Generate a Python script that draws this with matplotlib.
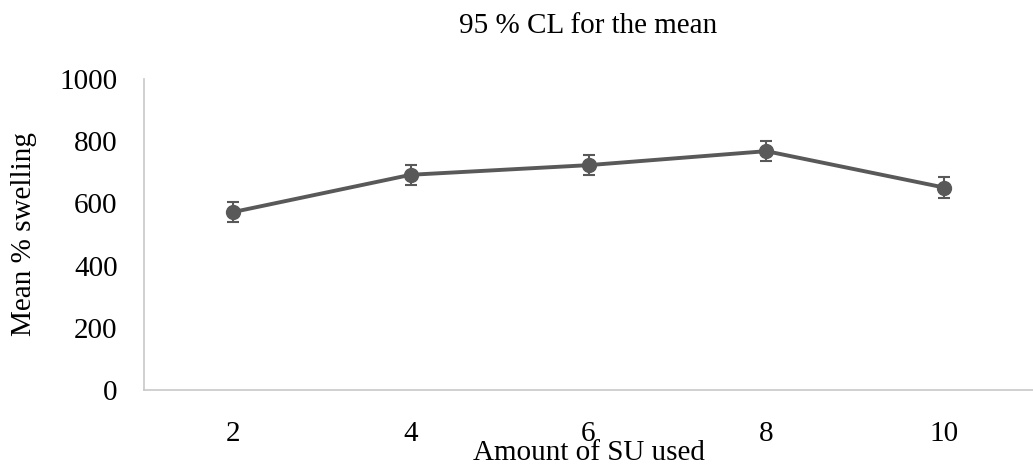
import matplotlib.pyplot as plt

# Mean % swelling vs amount of SU, with 95 % CL error bars
su_amount = ["2", "4", "6", "8", "10"]
mean_swelling = [572, 692, 723, 768, 651]
ci_half_width = [33, 33, 33, 33, 33]

plt.rcParams['font.family'] = ['Liberation Serif', 'DejaVu Serif']

fig = plt.figure(figsize=(10.33, 4.69), dpi=100)
ax = fig.add_axes([144 / 1033, 1 - 390 / 469, 889 / 1033, 311 / 469])

x = list(range(len(su_amount)))
ax.errorbar(x, mean_swelling, yerr=ci_half_width, color="#595959",
            linewidth=2.8, marker="o", markersize=10, elinewidth=1.5,
            capsize=4, capthick=1.5)

ax.set_xlim(-0.5, len(su_amount) - 0.5)
ax.set_ylim(0, 1000)
ax.set_yticks(range(0, 1001, 200))
ax.set_xticks(x)
ax.set_xticklabels(su_amount)
ax.tick_params(length=0, labelsize=21, colors="black")
ax.tick_params(axis="x", pad=22)
ax.tick_params(axis="y", pad=19)

for side in ["top", "right"]:
    ax.spines[side].set_visible(False)
for side in ["left", "bottom"]:
    ax.spines[side].set_color("#c8c8c8")
    ax.spines[side].set_linewidth(1.2)

ax.set_title("95 % CL for the mean", fontsize=21, pad=33)
ax.set_xlabel("Amount of SU used", fontsize=21)
ax.xaxis.set_label_coords(0.5, -0.16)
ax.set_ylabel("Mean % swelling", fontsize=21)
ax.yaxis.set_label_coords(-0.12, 0.5)

fig.savefig("out.png", dpi=100)
